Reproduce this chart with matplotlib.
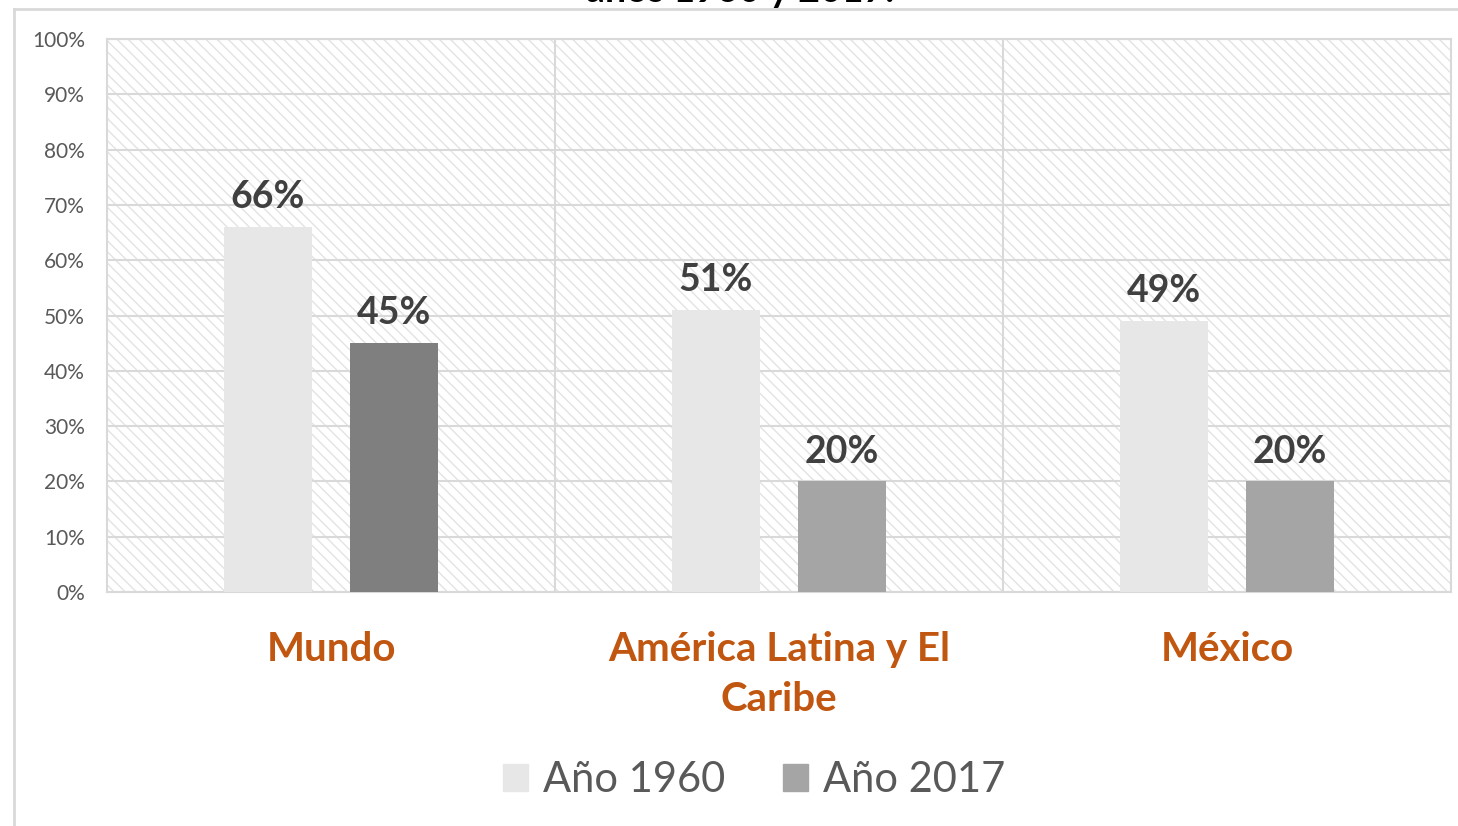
import matplotlib
matplotlib.use("Agg")
from matplotlib import pyplot as plt
from matplotlib.patches import Rectangle
from matplotlib.lines import Line2D
import numpy as np

categories = ["Mundo", "América Latina y El\nCaribe", "México"]
values_1960 = [66, 51, 49]
values_2017 = [45, 20, 20]
labels_1960 = ["66%", "51%", "49%"]
labels_2017 = ["45%", "20%", "20%"]
series_names = ["Año 1960", "Año 2017"]
colors_2017 = ["#7F7F7F", "#A5A5A5", "#A5A5A5"]

plt.rcParams['font.family'] = ['Lato', 'DejaVu Sans']
plt.rcParams['hatch.linewidth'] = 1.0

fig = plt.figure(figsize=(14.58, 8.26), dpi=100)
ax = fig.add_axes([107 / 1458, 234 / 826, 1344 / 1458, 553 / 826])

# hatched plot area background
bg = Rectangle((0, 0), 1, 1, transform=ax.transAxes, facecolor="white",
               edgecolor="#E3E3E3", hatch="\\\\\\", lw=0, zorder=0)
ax.add_patch(bg)

x = np.arange(len(categories))
width = 0.196
offset = 0.141
b1 = ax.bar(x - offset, values_1960, width, color="#E7E7E7", zorder=3,
            label=series_names[0])
b2 = ax.bar(x + offset, values_2017, width, color=colors_2017, zorder=3,
            label=series_names[1])

for bars, labels in ((b1, labels_1960), (b2, labels_2017)):
    for bar, lab in zip(bars, labels):
        ax.text(bar.get_x() + bar.get_width() / 2, bar.get_height() + 2.3, lab,
                ha="center", va="bottom", fontsize=27, fontweight="bold",
                color="#404040", zorder=4)

ax.set_xlim(-0.5, 2.5)
ax.set_ylim(0, 100)
ax.set_yticks(range(0, 101, 10))
ax.set_yticklabels([f"{v}%" for v in range(0, 101, 10)], fontsize=15,
                   color="#595959")
ax.set_xticks(x)
ax.set_xticklabels(categories, fontsize=29, fontweight="bold", color="#C0560F",
                   linespacing=1.45)
ax.tick_params(axis="both", length=0)
ax.tick_params(axis="y", pad=16)
ax.tick_params(axis="x", pad=28)

ax.set_axisbelow(True)
ax.grid(axis="y", color="#D9D9D9", lw=1.5, zorder=1)
for bx in (0.5, 1.5):
    ax.axvline(bx, color="#D9D9D9", lw=1.5, zorder=1)
for s in ax.spines.values():
    s.set_color("#D9D9D9")
    s.set_linewidth(1.5)

# legend
ax.legend(handles=[Rectangle((0, 0), 1, 1, color="#E7E7E7"),
                   Rectangle((0, 0), 1, 1, color="#A5A5A5")],
          labels=series_names, loc="center", bbox_to_anchor=(754 / 1458, 46 / 826),
          bbox_transform=fig.transFigure, ncol=2, frameon=False,
          fontsize=30, labelcolor="#595959", handlelength=0.6, handleheight=0.6,
          handletextpad=0.35, columnspacing=1.4)

# title cut off at top of image, as in the source
fig.text(740 / 1458, 1 - 2 / 826, "años 1960 y 2017.", ha="center",
         va="baseline", fontsize=27, fontweight="bold", color="black")

# chart frame
fig.add_artist(Line2D([14 / 1458, 14 / 1458], [0, 1 - 9 / 826],
                      transform=fig.transFigure, color="#D9D9D9", lw=2))
fig.add_artist(Line2D([14 / 1458, 1], [1 - 9 / 826, 1 - 9 / 826],
                      transform=fig.transFigure, color="#D9D9D9", lw=2))

fig.savefig("out.png", dpi=100)
